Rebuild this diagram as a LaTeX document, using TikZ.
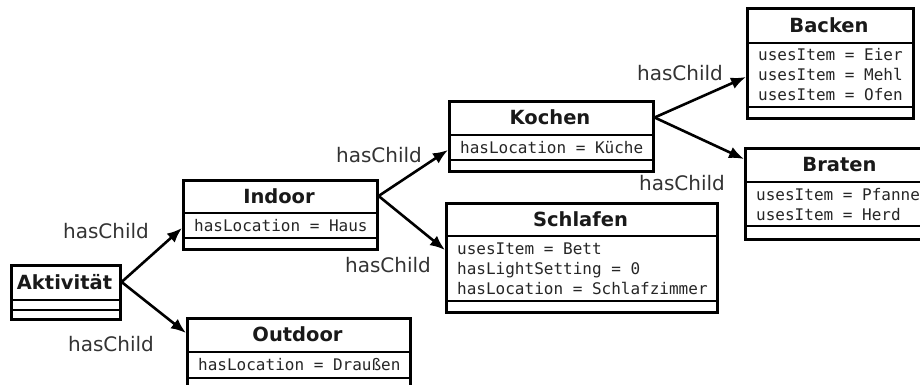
\documentclass[tikz,border=0pt]{standalone}
\usepackage{fontspec}
\setmainfont{DejaVu Sans}
\newfontfamily\umlmono{DejaVu Sans Mono}
\usetikzlibrary{arrows.meta,calc}

\tikzset{
  boxline/.style={line width=2.6pt, draw=black},
  classbox/.style={boxline, rectangle, inner sep=0pt, fill=white},
  classtitle/.style={font=\fontsize{19.5}{22}\selectfont\bfseries, text=black!90,
                     inner sep=0pt, text height=14.2pt, text depth=0pt},
  attrtext/.style={font=\fontsize{16}{20}\umlmono, text=black!85,
                   inner sep=0pt, anchor=base west},
  childlabel/.style={font=\fontsize{20}{24}\selectfont, text=black!80, inner sep=0pt},
  child/.style={line width=2.6pt, -{Latex[length=15pt,width=12pt]}},
}

% class box: name, left, top, right, first separator, second separator, bottom, title
\newcommand{\umlclass}[8]{%
  \pgfmathsetmacro{\clsw}{#4-#2}%
  \pgfmathsetmacro{\clsh}{#7-#3}%
  \node[classbox, anchor=north west, minimum width=\clsw pt, minimum height=\clsh pt] (#1) at (#2,#3) {};
  \draw[boxline] (#2,#5) -- (#4,#5) (#2,#6) -- (#4,#6);
  \node[classtitle] (#1-title) at ({(#2+#4)/2},{(#3+#5)/2}) {#8};
}
% attribute lines: name, left, first separator, list of lines
\newcommand{\umlattrs}[4]{%
  \foreach \txt [count=\i] in {#4} {
    \node[attrtext] (#1-attr-\i) at (#2+12, #3+18+20*\i-20) {\txt};
  }
}

\begin{document}
\begin{tikzpicture}[x=1pt, y=-1pt]
  \useasboundingbox (0,0) rectangle (920,385);
  \clip (0,0) rectangle (920,385);

  \umlclass{akt}{10}{264}{119}{300}{310}{318}{Aktivität}

  \umlclass{indoor}{182}{179}{376}{213}{238}{248}{Indoor}
  \umlattrs{indoor}{182}{213}{hasLocation = Haus}

  \umlclass{outdoor}{186}{317}{409}{352}{378}{395}{Outdoor}
  \umlattrs{outdoor}{186}{352}{hasLocation = Draußen}

  \umlclass{kochen}{448}{100}{652}{135}{160}{170}{Kochen}
  \umlattrs{kochen}{448}{135}{hasLocation = Küche}

  \umlclass{schlafen}{445}{202}{716}{236}{301}{311}{Schlafen}
  \umlattrs{schlafen}{445}{236}{usesItem = Bett, hasLightSetting = 0, hasLocation = Schlafzimmer}

  \umlclass{backen}{746}{7}{912}{43}{107}{117}{Backen}
  \umlattrs{backen}{746}{43}{usesItem = Eier, usesItem = Mehl, usesItem = Ofen}

  \umlclass{braten}{744}{147}{935}{182}{226}{238}{Braten}
  \umlattrs{braten}{744}{182}{usesItem = Pfanne, usesItem = Herd}

  % hasChild connectors
  \draw[child] (akt-title -| akt.east) -- ($(indoor.north west)+(0,49)$);
  \draw[child] (akt-title -| akt.east) -- ($(outdoor.north west)+(0,16)$);
  \draw[child] (indoor-title -| indoor.east) -- ($(kochen.north west)+(0,50)$);
  \draw[child] (indoor-title -| indoor.east) -- ($(schlafen.north west)+(0,48)$);
  \draw[child] (kochen-title -| kochen.east) -- ($(backen.north west)+(0,70)$);
  \draw[child] (kochen-title -| kochen.east) -- ($(braten.north west)+(0,12)$);

  \node[childlabel] (lbl-indoor)   at (106,231) {hasChild};
  \node[childlabel] (lbl-outdoor)  at (111,344) {hasChild};
  \node[childlabel] (lbl-kochen)   at (379,155) {hasChild};
  \node[childlabel] (lbl-schlafen) at (388,265) {hasChild};
  \node[childlabel] (lbl-backen)   at (680,73)  {hasChild};
  \node[childlabel] (lbl-braten)   at (682,183) {hasChild};
\end{tikzpicture}
\end{document}
